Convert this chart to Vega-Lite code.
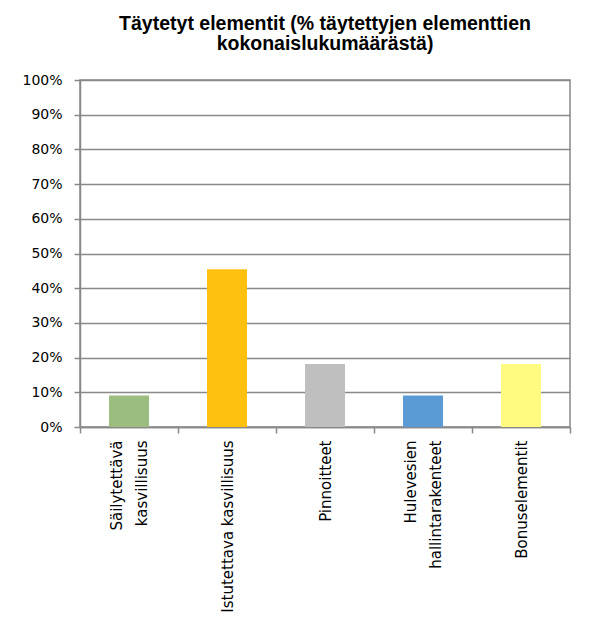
{
  "$schema": "https://vega.github.io/schema/vega-lite/v6.json",
  "autosize": {"type": "none"},
  "width": 490,
  "height": 347,
  "padding": {"left": 80, "top": 80, "right": 35, "bottom": 201},
  "background": "white",
  "title": {
    "text": ["Täytetyt elementit (% täytettyjen elementtien", "kokonaislukumäärästä)"],
    "font": "Liberation Sans",
    "fontSize": 19.5,
    "fontWeight": "bold",
    "color": "black",
    "anchor": "middle",
    "lineHeight": 20,
    "baseline": "alphabetic",
    "offset": 4
  },
  "data": {
    "values": [
      {"kategoria": "Säilytettävä|kasvillisuus", "osuus": 0.0909},
      {"kategoria": "Istutettava kasvillisuus", "osuus": 0.4545},
      {"kategoria": "Pinnoitteet", "osuus": 0.1818},
      {"kategoria": "Hulevesien|hallintarakenteet", "osuus": 0.0909},
      {"kategoria": "Bonuselementit", "osuus": 0.1818}
    ]
  },
  "layer": [
    {
      "mark": {"type": "bar", "size": 40},
      "encoding": {
        "x": {
          "field": "kategoria",
          "type": "nominal",
          "sort": null,
          "title": null,
          "scale": {"paddingInner": 0, "paddingOuter": 0},
          "axis": {
            "orient": "bottom",
            "labelExpr": "indexof(datum.label, '|') >= 0 ? '' : datum.label",
            "labelAngle": -90,
            "labelAlign": "right",
            "labelBaseline": "middle",
            "labelPadding": 7,
            "labelFont": "DejaVu Sans",
            "labelFontSize": 15,
            "labelColor": "black",
            "tickBand": "extent",
            "tickSize": 6,
            "tickColor": "#898989",
            "tickWidth": 1.5,
            "domainColor": "#898989",
            "domainWidth": 1.5,
            "labelLimit": 300
          }
        },
        "y": {
          "field": "osuus",
          "type": "quantitative",
          "title": null,
          "scale": {"domain": [0, 1], "nice": false},
          "axis": {
            "values": [0, 0.1, 0.2, 0.3, 0.4, 0.5, 0.6, 0.7, 0.8, 0.9, 1],
            "format": ".0%",
            "labelFont": "DejaVu Sans",
            "labelFontSize": 14,
            "labelColor": "black",
            "labelPadding": 12,
            "tickSize": 6,
            "tickColor": "#898989",
            "tickWidth": 1.5,
            "domainColor": "#898989",
            "domainWidth": 1.5,
            "grid": true,
            "gridColor": "#898989",
            "gridWidth": 1.5
          }
        },
        "color": {
          "field": "kategoria",
          "type": "nominal",
          "sort": null,
          "legend": null,
          "scale": {
            "domain": ["Säilytettävä|kasvillisuus", "Istutettava kasvillisuus", "Pinnoitteet", "Hulevesien|hallintarakenteet", "Bonuselementit"],
            "range": ["#9BBE80", "#FFC010", "#BFBFBF", "#5B9BD5", "#FFFA80"]
          }
        }
      }
    },
    {
      "mark": {"type": "bar", "size": 40, "opacity": 0},
      "encoding": {
        "x": {
          "field": "kategoria",
          "type": "nominal",
          "sort": null,
          "title": null,
          "axis": {
            "orient": "bottom",
            "labelExpr": "indexof(datum.label, '|') >= 0 ? split(datum.label, '|') : ''",
            "labelAngle": -90,
            "labelAlign": "right",
            "labelBaseline": "middle",
            "labelLineHeight": 25,
            "labelOffset": -12,
            "labelPadding": 13,
            "labelFont": "DejaVu Sans",
            "labelFontSize": 15,
            "labelColor": "black",
            "ticks": false,
            "domain": false,
            "grid": false,
            "labelLimit": 300
          }
        }
      }
    }
  ],
  "resolve": {"axis": {"x": "independent"}},
  "config": {
    "view": {"stroke": "#898989", "strokeWidth": 1.5}
  }
}
